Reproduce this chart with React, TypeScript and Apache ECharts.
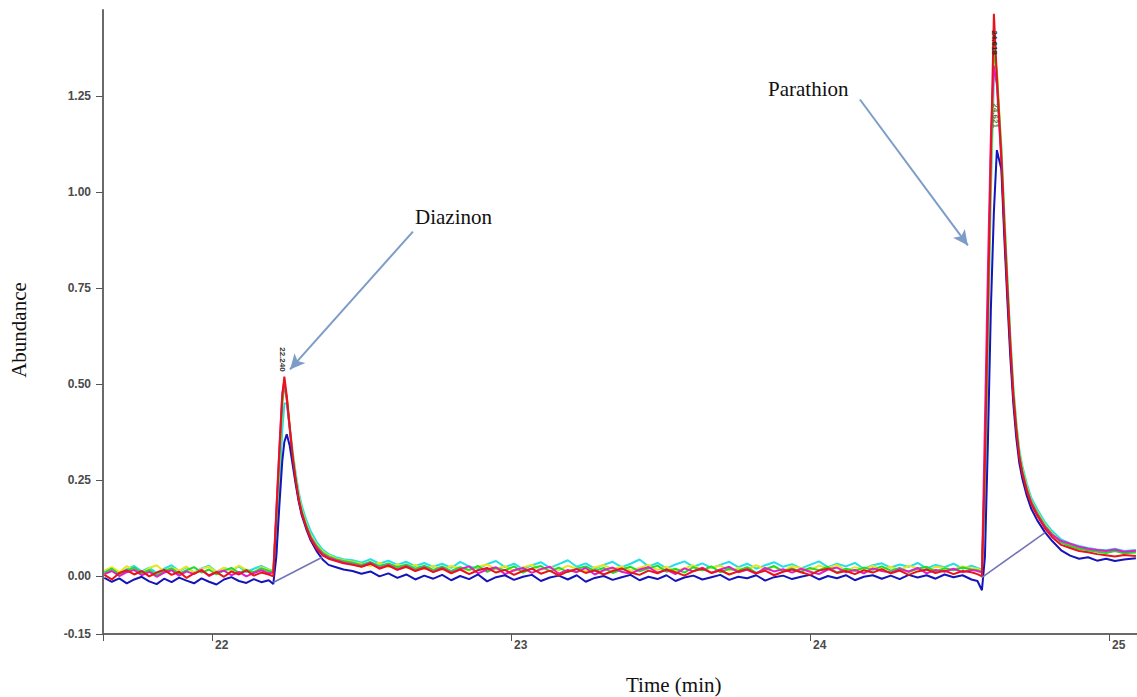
import React, { useEffect, useRef } from "react";
import * as echarts from "echarts";

// Retention time grid (min)
const times = [
  21.640, 21.665, 21.690, 21.715, 21.740, 21.765, 21.790, 21.815, 21.840, 21.865,
  21.890, 21.915, 21.940, 21.965, 21.990, 22.015, 22.040, 22.065, 22.090, 22.115,
  22.140, 22.165, 22.190,
  22.205, 22.215, 22.225, 22.235, 22.242, 22.250, 22.260, 22.270, 22.280, 22.290,
  22.300, 22.315, 22.330, 22.350, 22.370, 22.390, 22.415, 22.440,
  22.47, 22.50, 22.53, 22.56, 22.59, 22.62, 22.65, 22.68, 22.71, 22.74,
  22.77, 22.80, 22.83, 22.86, 22.89, 22.92, 22.95, 22.98, 23.01, 23.04,
  23.07, 23.10, 23.13, 23.16, 23.19, 23.22, 23.25, 23.28, 23.31, 23.34,
  23.37, 23.40, 23.43, 23.46, 23.49, 23.52, 23.55, 23.58, 23.61, 23.64,
  23.67, 23.70, 23.73, 23.76, 23.79, 23.82, 23.85, 23.88, 23.91, 23.94,
  23.97, 24.00, 24.03, 24.06, 24.09, 24.12, 24.15, 24.18, 24.21, 24.24,
  24.27, 24.30, 24.33, 24.36, 24.39, 24.42, 24.45, 24.48, 24.51, 24.54,
  24.560, 24.575, 24.585, 24.595, 24.605, 24.615, 24.625, 24.640, 24.650, 24.660,
  24.670, 24.680, 24.690, 24.700, 24.710, 24.725, 24.740, 24.760, 24.785, 24.810,
  24.840, 24.870, 24.900, 24.930, 24.960, 24.990, 25.020, 25.050, 25.090,
];

const cyanTrace = [
  0.012, 0.022, 0.008, 0.019, 0.027, 0.013, 0.023, 0.009, 0.020, 0.029,
  0.014, 0.024, 0.010, 0.021, 0.028, 0.012, 0.022, 0.015, 0.026, 0.011,
  0.020, 0.027, 0.018,
  0.016, 0.060, 0.220, 0.380, 0.450, 0.450, 0.390, 0.325, 0.268, 0.220,
  0.185, 0.148, 0.118, 0.090, 0.070, 0.058, 0.050, 0.045,
  0.042, 0.036, 0.045, 0.033, 0.041, 0.030, 0.038, 0.027, 0.035, 0.025,
  0.033, 0.022, 0.038, 0.026, 0.020, 0.032, 0.040, 0.024, 0.033, 0.019,
  0.029, 0.037, 0.022, 0.032, 0.042, 0.025, 0.034, 0.020, 0.030, 0.038,
  0.024, 0.033, 0.044, 0.026, 0.035, 0.021, 0.031, 0.039, 0.025, 0.034,
  0.022, 0.030, 0.038, 0.024, 0.033, 0.020, 0.029, 0.037, 0.025, 0.032,
  0.021, 0.030, 0.039, 0.024, 0.033, 0.026, 0.035, 0.020, 0.029, 0.034,
  0.023, 0.031, 0.025, 0.035, 0.021, 0.030, 0.024, 0.033, 0.020, 0.028,
  0.022, 0.018, 0.200, 0.600, 1.000, 1.300, 1.290, 1.120, 0.945, 0.780,
  0.625, 0.495, 0.402, 0.330, 0.288, 0.242, 0.205, 0.175, 0.142, 0.118,
  0.096, 0.086, 0.079, 0.074, 0.070, 0.068, 0.072, 0.066, 0.069,
];

const yellowTrace = [
  0.015, 0.024, 0.011, 0.027, 0.016, 0.008, 0.022, 0.029, 0.013, 0.023,
  0.015, 0.026, 0.009, 0.020, 0.025, 0.011, 0.023, 0.015, 0.028, 0.017,
  0.010, 0.024, 0.017,
  0.015, 0.145, 0.295, 0.445, 0.500, 0.470, 0.392, 0.318, 0.260, 0.210,
  0.175, 0.138, 0.108, 0.083, 0.065, 0.055, 0.047, 0.042,
  0.038, 0.033, 0.027, 0.036, 0.024, 0.032, 0.022, 0.030, 0.019, 0.028,
  0.017, 0.027, 0.021, 0.015, 0.025, 0.031, 0.018, 0.027, 0.014, 0.024,
  0.030, 0.017, 0.025, 0.016, 0.028, 0.020, 0.013, 0.024, 0.029, 0.019,
  0.026, 0.015, 0.022, 0.030, 0.017, 0.025, 0.014, 0.021, 0.029, 0.016,
  0.023, 0.028, 0.015, 0.022, 0.018, 0.029, 0.019, 0.025, 0.014, 0.027,
  0.021, 0.016, 0.028, 0.022, 0.030, 0.015, 0.024, 0.019, 0.027, 0.018,
  0.025, 0.016, 0.028, 0.021, 0.015, 0.025, 0.022, 0.018, 0.026, 0.021,
  0.020, 0.015, 0.260, 0.660, 1.060, 1.360, 1.320, 1.110, 0.930, 0.770,
  0.615, 0.485, 0.395, 0.322, 0.280, 0.234, 0.198, 0.168, 0.136, 0.112,
  0.091, 0.082, 0.074, 0.070, 0.067, 0.063, 0.068, 0.062, 0.064,
];

const greenTrace = [
  0.010, 0.020, 0.005, 0.015, 0.023, 0.008, 0.017, 0.003, 0.014, 0.021,
  0.007, 0.016, 0.024, 0.010, 0.018, 0.005, 0.015, 0.022, 0.009, 0.017,
  0.011, 0.021, 0.014,
  0.012, 0.150, 0.300, 0.450, 0.500, 0.465, 0.385, 0.312, 0.255, 0.205,
  0.170, 0.134, 0.104, 0.080, 0.062, 0.052, 0.045, 0.040,
  0.036, 0.030, 0.038, 0.027, 0.034, 0.024, 0.031, 0.020, 0.028, 0.017,
  0.026, 0.014, 0.024, 0.017, 0.027, 0.012, 0.022, 0.016, 0.026, 0.010,
  0.021, 0.027, 0.013, 0.023, 0.011, 0.020, 0.026, 0.014, 0.022, 0.009,
  0.018, 0.025, 0.013, 0.021, 0.028, 0.012, 0.020, 0.010, 0.024, 0.016,
  0.026, 0.011, 0.020, 0.015, 0.024, 0.009, 0.018, 0.027, 0.013, 0.021,
  0.012, 0.022, 0.016, 0.025, 0.010, 0.020, 0.014, 0.023, 0.017, 0.026,
  0.015, 0.022, 0.011, 0.020, 0.025, 0.013, 0.021, 0.016, 0.023, 0.018,
  0.016, 0.012, 0.280, 0.680, 1.080, 1.380, 1.310, 1.100, 0.925, 0.765,
  0.610, 0.480, 0.390, 0.318, 0.276, 0.230, 0.195, 0.165, 0.133, 0.110,
  0.088, 0.079, 0.072, 0.068, 0.064, 0.061, 0.066, 0.060, 0.062,
];

const magentaTrace = [
  0.006, 0.014, 0.001, 0.011, 0.017, 0.003, 0.012, -0.001, 0.010, 0.016,
  0.002, 0.013, 0.006, 0.018, 0.001, 0.011, 0.015, 0.003, 0.012, 0.000,
  0.009, 0.016, 0.008,
  0.010, 0.170, 0.330, 0.475, 0.510, 0.460, 0.385, 0.305, 0.248, 0.200,
  0.166, 0.130, 0.101, 0.076, 0.058, 0.049, 0.042, 0.036,
  0.032, 0.026, 0.035, 0.022, 0.030, 0.018, 0.027, 0.015, 0.024, 0.012,
  0.022, 0.010, 0.019, 0.026, 0.008, 0.018, 0.024, 0.006, 0.016, 0.022,
  0.009, 0.019, 0.025, 0.007, 0.017, 0.011, 0.022, 0.005, 0.016, 0.023,
  0.012, 0.007, 0.018, 0.024, 0.010, 0.017, 0.006, 0.021, 0.013, 0.023,
  0.009, 0.018, 0.025, 0.011, 0.017, 0.007, 0.022, 0.013, 0.019, 0.010,
  0.020, 0.012, 0.006, 0.018, 0.023, 0.011, 0.017, 0.008, 0.021, 0.014,
  0.010, 0.019, 0.013, 0.022, 0.008, 0.017, 0.012, 0.020, 0.011, 0.017,
  0.014, 0.010, 0.400, 0.800, 1.150, 1.330, 1.280, 1.080, 0.905, 0.745,
  0.595, 0.468, 0.378, 0.310, 0.270, 0.226, 0.192, 0.162, 0.130, 0.108,
  0.092, 0.085, 0.077, 0.072, 0.069, 0.066, 0.070, 0.064, 0.067,
];

const blueTrace = [
  -0.004, -0.014, -0.005, -0.018, -0.008, -0.001, -0.013, -0.020, -0.006, -0.015,
  -0.003, -0.011, -0.018, -0.005, -0.014, -0.021, -0.008, -0.002, -0.012, -0.017,
  -0.007, -0.015, -0.010,
  -0.020, 0.050, 0.180, 0.300, 0.350, 0.370, 0.340, 0.290, 0.240, 0.195,
  0.160, 0.124, 0.094, 0.066, 0.044, 0.030, 0.024, 0.018,
  0.014, 0.007, 0.013, 0.000, 0.008, -0.004, 0.005, -0.008, 0.002, -0.006,
  0.004, -0.010, 0.001, -0.007, 0.005, -0.013, -0.002, 0.003, -0.009, -0.001,
  0.004, -0.012, -0.003, 0.002, -0.008, 0.003, -0.014, -0.004, 0.001, -0.009,
  -0.002, 0.004, -0.010, -0.001, -0.007, 0.003, -0.012, -0.003, 0.002, -0.008,
  -0.002, 0.004, -0.009, -0.001, -0.005, 0.003, -0.011, -0.002, 0.002, -0.007,
  -0.001, 0.004, -0.008, 0.001, -0.005, 0.003, -0.010, -0.001, 0.003, -0.006,
  0.002, -0.007, 0.004, -0.003, 0.003, -0.006, 0.005, -0.002, 0.003, -0.008,
  -0.012, -0.036, 0.050, 0.350, 0.700, 0.950, 1.110, 1.060, 0.880, 0.720,
  0.570, 0.450, 0.360, 0.295, 0.255, 0.210, 0.176, 0.146, 0.116, 0.092,
  0.068, 0.054, 0.046, 0.050, 0.041, 0.046, 0.040, 0.044, 0.047,
];

const redTrace = [
  0.004, -0.008, 0.009, 0.016, 0.005, 0.014, 0.000, 0.010, 0.017, 0.004,
  0.012, -0.004, 0.008, 0.015, 0.003, 0.011, -0.001, 0.013, 0.005, 0.016,
  0.002, 0.010, 0.005,
  0.000, 0.160, 0.320, 0.470, 0.520, 0.470, 0.390, 0.310, 0.250, 0.200,
  0.165, 0.128, 0.098, 0.072, 0.055, 0.046, 0.040, 0.034,
  0.030, 0.025, 0.033, 0.020, 0.028, 0.017, 0.025, 0.014, 0.022, 0.011,
  0.020, 0.008, 0.018, 0.006, 0.016, 0.022, 0.010, 0.017, 0.004, 0.014,
  0.020, 0.007, 0.015, 0.002, 0.013, 0.019, 0.009, 0.016, 0.005, 0.014,
  0.021, 0.010, 0.004, 0.015, 0.008, 0.018, 0.011, 0.002, 0.014, 0.020,
  0.009, 0.016, 0.005, 0.013, 0.019, 0.008, 0.015, 0.003, 0.012, 0.018,
  0.011, 0.004, 0.015, 0.020, 0.009, 0.014, 0.006, 0.016, 0.010, 0.019,
  0.008, 0.015, 0.004, 0.013, 0.018, 0.009, 0.015, 0.006, 0.014, 0.011,
  0.006, 0.000, 0.300, 0.700, 1.100, 1.465, 1.300, 1.090, 0.910, 0.750,
  0.600, 0.470, 0.380, 0.310, 0.268, 0.222, 0.188, 0.158, 0.126, 0.102,
  0.082, 0.074, 0.066, 0.063, 0.058, 0.055, 0.052, 0.056, 0.053,
];

const traceNames = ["cyan", "yellow", "green", "magenta", "blue", "red"];
const traceValues = [cyanTrace, yellowTrace, greenTrace, magentaTrace, blueTrace, redTrace];
const traceColors = ["#22e0e6", "#e6e61e", "#1fdc2a", "#e21ec8", "#1414b8", "#e8141c"];

const yTickValues = [-0.15, 0, 0.25, 0.5, 0.75, 1.0, 1.25];
const xTickValues = [22, 23, 24, 25];
const xMin = 21.6355;
const xMax = 25.0936;
const yMin = -0.15;
const yMax = 1.475;

// integration baselines under each peak
const diazinonBaseline = [[22.205, -0.016], [22.367, 0.049]];
const parathionBaseline = [[24.574, -0.003], [24.786, 0.114]];

// annotation arrows (start -> tip), in data units
const diazinonArrow = [[22.672, 0.898], [22.261, 0.539]];
const parathionArrow = [[24.167, 1.242], [24.528, 0.862]];

const peakLabels = [
  { text: "22.240", t: 22.237, v: 0.565, color: "#333333" },
  { text: "24.618", t: 24.617, v: 1.39, color: "#2a2a2a" },
  { text: "24.621", t: 24.622, v: 1.20, color: "#5a7a20" },
];

export default function App() {
  const ref = useRef<HTMLDivElement>(null);

  useEffect(() => {
    if (!ref.current) return;
    const chart = echarts.init(ref.current, undefined, { renderer: "svg" });

    const traceSeries = traceValues.map((vals, k) => ({
      name: traceNames[k],
      type: "line",
      symbol: "none",
      smooth: false,
      lineStyle: { color: traceColors[k], width: 2 },
      itemStyle: { color: traceColors[k] },
      data: times.map((t, i) => [t, vals[i] ?? null]),
      z: 3 + k,
    }));

    const serif = "'Liberation Serif', 'Times New Roman', serif";
    const sans = "'Liberation Sans', Arial, sans-serif";

    chart.setOption({
      animation: false,
      backgroundColor: "#ffffff",
      grid: { left: 103, right: 0, top: 10, bottom: 63, containLabel: false },
      xAxis: {
        type: "value",
        min: xMin,
        max: xMax,
        axisLine: { show: true, onZero: false, lineStyle: { color: "#6a6a6a", width: 2 } },
        axisTick: {
          show: true,
          inside: false,
          length: 7,
          customValues: [xMin, ...xTickValues],
          lineStyle: { color: "#555555", width: 1 },
        },
        axisLabel: {
          customValues: xTickValues,
          formatter: (v: number) => String(Math.round(v)),
          align: "left",
          margin: 5,
          padding: [0, 0, 0, 3],
          color: "#4a4a4a",
          fontSize: 12,
          fontWeight: "bold",
          fontFamily: sans,
        },
        splitLine: { show: false },
      },
      yAxis: {
        type: "value",
        min: yMin,
        max: yMax,
        axisLine: { show: true, onZero: false, lineStyle: { color: "#6a6a6a", width: 2 } },
        axisTick: {
          show: true,
          length: 7,
          customValues: yTickValues,
          lineStyle: { color: "#555555", width: 1 },
        },
        axisLabel: {
          customValues: yTickValues,
          formatter: (v: number) => v.toFixed(2),
          margin: 12,
          color: "#4a4a4a",
          fontSize: 12,
          fontWeight: "bold",
          fontFamily: sans,
        },
        splitLine: { show: false },
      },
      series: [
        {
          name: "baselineDiazinon",
          type: "line",
          symbol: "none",
          lineStyle: { color: "#7276b4", width: 1.6 },
          data: diazinonBaseline,
          z: 10,
          markLine: {
            silent: true,
            symbol: ["none", "arrow"],
            symbolSize: [11, 15],
            label: { show: false },
            lineStyle: { color: "#7d9dc8", width: 2, type: "solid" },
            data: [
              [
                { coord: diazinonArrow[0] },
                { coord: diazinonArrow[1] },
              ],
              [
                { coord: parathionArrow[0] },
                { coord: parathionArrow[1] },
              ],
            ],
          },
        },
        {
          name: "baselineParathion",
          type: "line",
          symbol: "none",
          lineStyle: { color: "#7276b4", width: 1.6 },
          data: parathionBaseline,
          z: 10,
        },
        ...traceSeries,
      ],
    });

    const labelGraphics = peakLabels.map((p) => {
      const [px, py] = chart.convertToPixel({ gridIndex: 0 }, [p.t, p.v]) as number[];
      return {
        type: "text",
        x: px,
        y: py,
        rotation: -Math.PI / 2,
        z: 50,
        style: {
          text: p.text,
          fill: p.color,
          font: `bold 8px ${sans}`,
          textAlign: "center",
          textVerticalAlign: "middle",
        },
      };
    });

    chart.setOption({
      graphic: [
        {
          type: "text",
          left: 415,
          top: 206,
          z: 50,
          style: { text: "Diazinon", fill: "#111111", font: `21px ${serif}` },
        },
        {
          type: "text",
          left: 768,
          top: 78,
          z: 50,
          style: { text: "Parathion", fill: "#111111", font: `21px ${serif}` },
        },
        {
          type: "text",
          left: 626,
          top: 674,
          z: 50,
          style: { text: "Time (min)", fill: "#111111", font: `21px ${serif}` },
        },
        {
          type: "text",
          x: 19,
          y: 330,
          rotation: Math.PI / 2,
          z: 50,
          style: {
            text: "Abundance",
            fill: "#111111",
            font: `21px ${serif}`,
            textAlign: "center",
            textVerticalAlign: "middle",
          },
        },
        ...labelGraphics,
      ],
    });

    return () => {
      chart.dispose();
    };
  }, []);

  return (
    <div
      ref={ref}
      style={{ position: "fixed", left: 0, top: 0, width: 1137, height: 697, background: "#fff" }}
    />
  );
}
